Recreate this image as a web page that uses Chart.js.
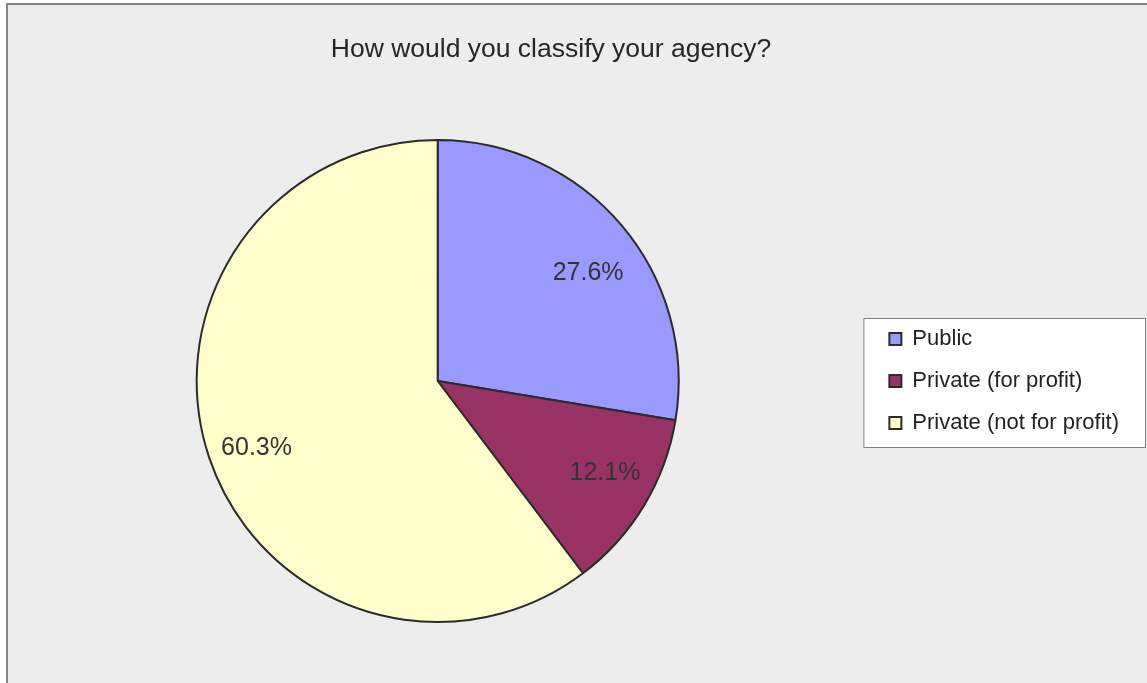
<!DOCTYPE html>
<html>
<head>
<meta charset="utf-8">
<title>How would you classify your agency?</title>
<script src="https://cdn.jsdelivr.net/npm/chart.js@4/dist/chart.umd.min.js"></script>
<style>
    html, body { margin: 0; padding: 0; background: #ffffff; }
    #wrap { position: relative; width: 1147px; height: 683px; }
</style>
</head>
<body>
<div id="wrap"><canvas id="agencyChart" width="1147" height="683"></canvas></div>
<script>
// Dados do gráfico
const chartTitle = 'How would you classify your agency?';
const categories = ['Public', 'Private (for profit)', 'Private (not for profit)'];
const percentages = [27.6, 12.1, 60.3];
const sliceColors = ['#9999ff', '#993366', '#ffffcc'];

const FONT = "'Liberation Sans', Arial, sans-serif";

// Fundo cinza com a moldura (só as bordas esquerda e superior aparecem)
const framePlugin = {
    id: 'frame',
    beforeDraw(chart) {
        const ctx = chart.ctx;
        ctx.save();
        ctx.fillStyle = '#ffffff';
        ctx.fillRect(0, 0, chart.width, chart.height);
        ctx.fillStyle = '#ededed';
        ctx.fillRect(7, 4, chart.width, chart.height);
        ctx.strokeStyle = '#858585';
        ctx.lineWidth = 2;
        ctx.beginPath();
        ctx.moveTo(7, chart.height);
        ctx.lineTo(7, 4);
        ctx.lineTo(chart.width, 4);
        ctx.stroke();

        // Caixa branca atrás da legenda
        const boxes = chart.legend && chart.legend.legendHitBoxes;
        if (boxes && boxes.length) {
            const left = Math.min(...boxes.map(b => b.left)) - 26;
            const right = Math.max(...boxes.map(b => b.left + b.width)) + 26;
            const top = Math.min(...boxes.map(b => b.top)) - 10;
            const bottom = Math.max(...boxes.map(b => b.top + b.height)) + 13;
            ctx.fillStyle = '#ffffff';
            ctx.fillRect(left, top, right - left, bottom - top);
            ctx.strokeStyle = '#7f7f7f';
            ctx.lineWidth = 1;
            ctx.strokeRect(left + 0.5, top + 0.5, right - left, bottom - top);
        }

        // Título
        ctx.fillStyle = '#262626';
        ctx.font = '26.5px ' + FONT;
        ctx.textAlign = 'center';
        ctx.textBaseline = 'alphabetic';
        ctx.fillText(chartTitle, 551, 57);
        ctx.restore();
    }
};

// Rótulos de porcentagem dentro das fatias
const sliceLabelPlugin = {
    id: 'sliceLabels',
    afterDatasetsDraw(chart, args, opts) {
        const ctx = chart.ctx;
        const meta = chart.getDatasetMeta(0);
        ctx.save();
        ctx.fillStyle = '#333333';
        ctx.font = '25px ' + FONT;
        ctx.textAlign = 'center';
        ctx.textBaseline = 'middle';
        meta.data.forEach((arc, i) => {
            const p = arc.getProps(['x', 'y', 'startAngle', 'endAngle', 'outerRadius'], true);
            const mid = (p.startAngle + p.endAngle) / 2 + (opts.nudge[i] || 0) * Math.PI / 180;
            const r = p.outerRadius * opts.radiusFactor[i];
            const value = chart.data.datasets[0].data[i];
            ctx.fillText(value.toFixed(1) + '%', p.x + Math.cos(mid) * r, p.y + Math.sin(mid) * r + 1);
        });
        ctx.restore();
    }
};

const ctx = document.getElementById('agencyChart').getContext('2d');
const agencyChart = new Chart(ctx, {
    type: 'pie',
    data: {
        labels: categories,
        datasets: [{
            data: percentages,
            backgroundColor: sliceColors,
            borderColor: '#2b2b2b',
            borderWidth: 2,
            radius: 241
        }]
    },
    options: {
        responsive: false,
        animation: false,
        layout: {
            padding: { left: 6, right: 18, top: 101, bottom: 22 }
        },
        plugins: {
            title: { display: false },
            tooltip: { enabled: false },
            legend: {
                position: 'right',
                labels: {
                    boxWidth: 12,
                    boxHeight: 12,
                    padding: 20,
                    color: '#222222',
                    font: { family: FONT, size: 22 }
                }
            },
            sliceLabels: {
                radiusFactor: [0.77, 0.79, 0.80],
                nudge: [4.5, -2.6, -1.5]
            }
        }
    },
    plugins: [framePlugin, sliceLabelPlugin]
});
</script>
</body>
</html>
